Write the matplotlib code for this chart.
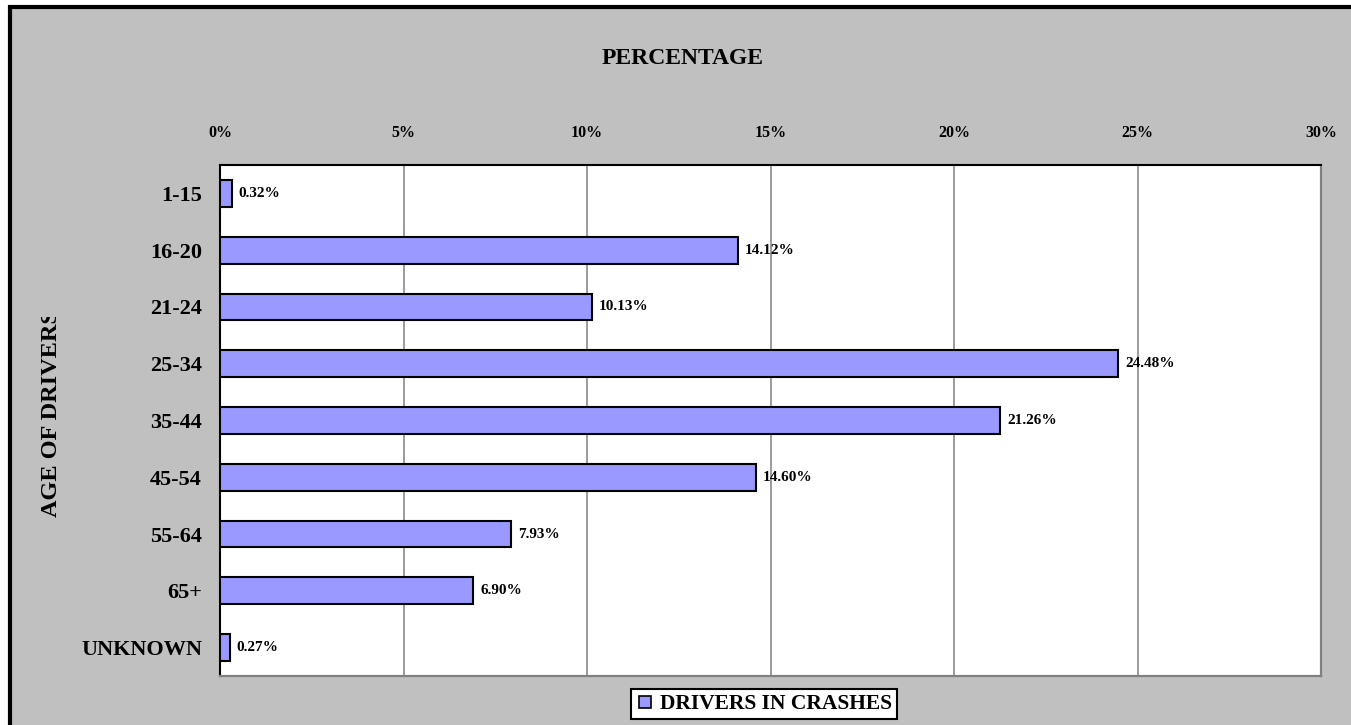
import matplotlib
matplotlib.use("Agg")
import matplotlib.pyplot as plt
from matplotlib.patches import Rectangle
from matplotlib.lines import Line2D
from matplotlib.transforms import Bbox, TransformedBbox

# --- data ---
age_groups = ["1-15", "16-20", "21-24", "25-34", "35-44", "45-54", "55-64", "65+", "UNKNOWN"]
pct_drivers = [0.32, 14.12, 10.13, 24.48, 21.26, 14.60, 7.93, 6.90, 0.27]
x_ticks = [0, 5, 10, 15, 20, 25, 30]
x_tick_labels = ["0%", "5%", "10%", "15%", "20%", "25%", "30%"]

W, H = 1351, 725
plt.rcParams['font.family'] = ['Liberation Serif', 'DejaVu Serif']
plt.rcParams['font.weight'] = 'bold'

fig = plt.figure(figsize=(W / 100, H / 100), dpi=100, facecolor='white')

# gray chart area with thick black frame (left/top visible)
frame = Rectangle((10 / W, -0.1), 1.2, 1.1 - 7 / H, transform=fig.transFigure,
                  facecolor='#C0C0C0', edgecolor='black', lw=3.0, zorder=-5)
fig.patches.append(frame)

ax = fig.add_axes([220 / W, 1 - 676 / H, (1321 - 220) / W, (676 - 165) / H])
ax.set_facecolor('white')

ypos = list(range(len(age_groups)))
ax.barh(ypos, pct_drivers, height=0.47, color='#9999FF', edgecolor='black', lw=1.5, zorder=3)

for y, v in zip(ypos, pct_drivers):
    ax.annotate(f"{v:.2f}%", (v, y), xytext=(5, 0), textcoords='offset points',
                ha='left', va='center', fontsize=11, fontweight='bold', zorder=4)

ax.set_xlim(0, 30)
ax.set_ylim(len(age_groups) - 0.5, -0.5)
ax.xaxis.tick_top()
ax.set_xticks(x_ticks)
ax.set_xticklabels(x_tick_labels, fontsize=11.5, fontweight='bold')
ax.tick_params(axis='x', length=0, pad=17)
ax.set_yticks(ypos)
ax.set_yticklabels(age_groups, fontsize=16, fontweight='bold')
ax.tick_params(axis='y', length=0, pad=13)

ax.xaxis.grid(True, color='#808080', lw=1.1, zorder=1)
ax.set_axisbelow(True)
for s in ['top', 'left']:
    ax.spines[s].set_color('black')
    ax.spines[s].set_linewidth(1.5)
for s in ['bottom', 'right']:
    ax.spines[s].set_color('#808080')
    ax.spines[s].set_linewidth(1.6)

fig.text(683 / W, 1 - 59 / H, "PERCENTAGE", ha='center', va='center',
         fontsize=17, fontweight='bold')

ylab = fig.text(52 / W, 1 - 414 / H, "AGE OF DRIVERS", rotation=90, ha='center',
                va='center', fontsize=17.5, fontweight='bold')
ylab.set_clip_box(TransformedBbox(Bbox([[0, 0], [1, 1 - 317 / H]]), fig.transFigure))
ylab.set_clip_on(True)

handle = Line2D([], [], ls='none', marker='s', markersize=9,
                markerfacecolor='#9999FF', markeredgecolor='black', markeredgewidth=1.2)
leg = fig.legend([handle], ["DRIVERS IN CRASHES"], loc='center',
                 bbox_to_anchor=(764 / W, 1 - 704 / H), frameon=True, fancybox=False,
                 prop={'size': 15.5, 'weight': 'bold'}, handlelength=0.8,
                 handletextpad=0.3, borderpad=0.25, borderaxespad=0)
leg.get_frame().set_edgecolor('black')
leg.get_frame().set_linewidth(1.5)
leg.get_frame().set_facecolor('white')
leg.get_frame().set_alpha(1)

fig.savefig("out.png", dpi=100)
